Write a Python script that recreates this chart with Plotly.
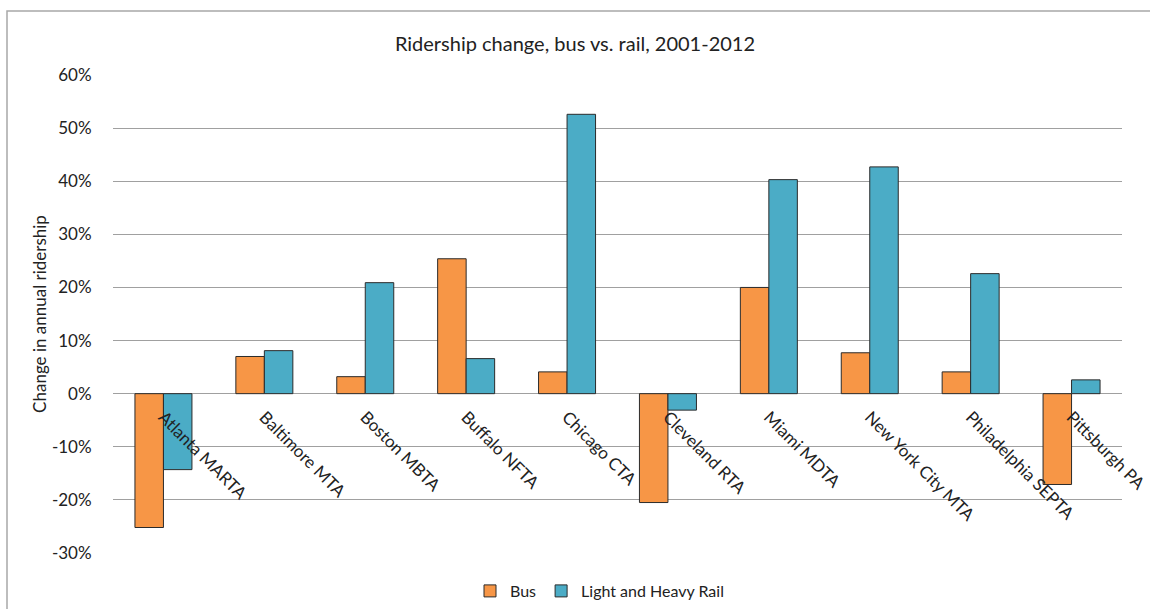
import plotly.graph_objects as go

categories = ["Atlanta MARTA", "Baltimore MTA", "Boston MBTA", "Buffalo NFTA", "Chicago CTA",
              "Cleveland RTA", "Miami MDTA", "New York City MTA", "Philadelphia SEPTA", "Pittsburgh PA"]
bus = [-25.2, 7.0, 3.2, 25.4, 4.1, -20.5, 20.0, 7.7, 4.1, -17.1]
rail = [-14.3, 8.1, 20.9, 6.6, 52.6, -3.1, 40.3, 42.7, 22.6, 2.6]
y_ticks = [-30, -20, -10, 0, 10, 20, 30, 40, 50, 60]
y_labels = [f"{v}%" for v in y_ticks]

FONT = "Lato"
TXT = "#222222"
W, H = 1150, 609
ML, MR, MT, MB = 113, 28, 75, 56
pw, ph = W - ML - MR, H - MT - MB

fig = go.Figure()
fig.add_trace(go.Bar(x=categories, y=bus, name="Bus",
                     marker=dict(color="#F79646", line=dict(color="#2b2b2b", width=1))))
fig.add_trace(go.Bar(x=categories, y=rail, name="Light and Heavy Rail",
                     marker=dict(color="#4BACC6", line=dict(color="#2b2b2b", width=1))))

ymin, ymax = -30, 60
fig.update_layout(
    width=W, height=H,
    margin=dict(l=ML, r=MR, t=MT, b=MB, autoexpand=False),
    paper_bgcolor="white", plot_bgcolor="white",
    barmode="group", bargap=0.435, bargroupgap=0,
    font=dict(family=FONT, size=17, color=TXT),
    title=dict(text="Ridership change, bus vs. rail, 2001-2012", x=0.5, xanchor="center",
               y=1 - 44 / H, yanchor="middle", font=dict(family=FONT, size=20, color=TXT)),
    xaxis=dict(anchor="free", position=(0 - ymin) / (ymax - ymin), showline=False, showgrid=False,
               automargin=False, ticks="outside", ticklen=6, tickcolor="rgba(0,0,0,0)",
               tickangle=45, tickfont=dict(family=FONT, size=17, color=TXT),
               zeroline=False),
    yaxis=dict(range=[ymin, ymax], tickvals=y_ticks, ticktext=y_labels, showgrid=True,
               automargin=False,
               gridcolor="#a0a0a0", gridwidth=1.3, zeroline=True, zerolinecolor="#a0a0a0",
               zerolinewidth=1.3, showline=False, ticks="outside", ticklen=17,
               tickcolor="rgba(0,0,0,0)",
               tickfont=dict(family=FONT, size=17, color=TXT),
               title=dict(text="Change in annual ridership", standoff=0,
                          font=dict(family=FONT, size=17, color=TXT))),
    legend=dict(orientation="h", x=(470 - ML) / pw, xanchor="left", y=-(591 - (H - MB)) / ph,
                yanchor="middle", font=dict(family=FONT, size=16, color=TXT), itemwidth=30,
                traceorder="normal"),
    showlegend=True,
)

# chart frame
fig.add_shape(type="rect", xref="paper", yref="paper",
              x0=(7 - ML) / pw, x1=(W + 20 - ML) / pw,
              y0=-(H + 20 - (H - MB)) / ph, y1=1 + (MT - 11) / ph,
              line=dict(color="#a8a8a8", width=1.5), fillcolor="rgba(0,0,0,0)", layer="below")

fig.write_html("out.html")
